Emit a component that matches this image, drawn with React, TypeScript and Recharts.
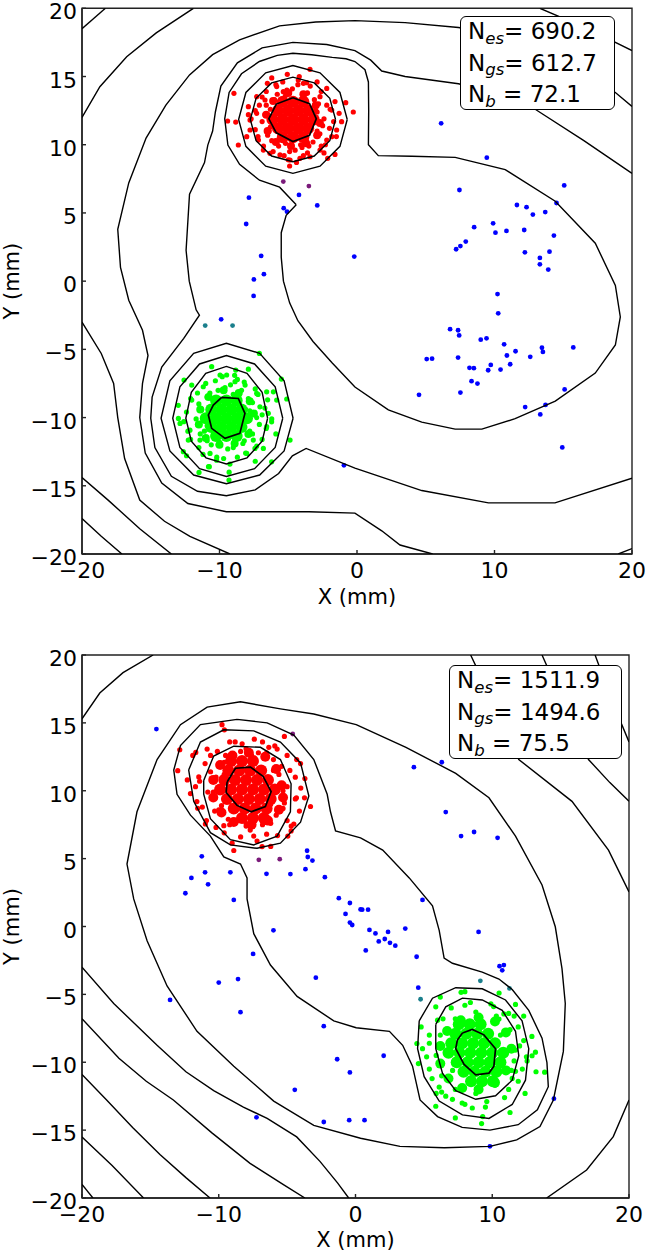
import React from 'react';
import { ScatterChart, Scatter, XAxis, YAxis, ReferenceArea } from 'recharts';

const FONT = '"DejaVu Sans", sans-serif';
const AX = '#222';

const xTicks = [-20, -10, 0, 10, 20];
const yTicks = [-20, -15, -10, -5, 0, 5, 10, 15, 20];

// ---------- top panel: points (x, y pairs) ----------
const p1RedCore = [-6.15, 11.85, -5.4, 11.85, -4.65, 11.85, -3.9, 11.85, -3.15, 11.85, -5.75, 12.5, -5.02, 12.5, -4.28, 12.5, -3.55, 12.5, -5.75, 11.2, -5.02, 11.2, -4.28, 11.2, -3.55, 11.2, -5.4, 13.15, -4.65, 13.15, -3.9, 13.15, -5.4, 10.55, -4.65, 10.55, -3.9, 10.55];
const p1RedRing = [-2.7, 11.6, -3.0, 12.9, -3.9, 13.7, -5.0, 13.8, -6.1, 13.2, -6.6, 12.2, -6.5, 11.0, -5.9, 10.2, -4.8, 9.9, -3.7, 10.1, -2.9, 10.7];
const p1RedMid = [-2.4, 11.9, -2.8, 13.0, -3.6, 13.8, -4.7, 14.1, -5.8, 13.7, -6.6, 12.9, -6.9, 11.7, -6.5, 10.7, -5.7, 9.9, -4.5, 9.6, -3.5, 9.9, -2.7, 10.8, -1.95, 12.6, -2.6, 13.9, -3.9, 14.5, -5.4, 14.6, -6.6, 13.9, -7.4, 12.5, -7.4, 11.1, -6.8, 9.9, -5.3, 9.2, -3.9, 9.2, -2.6, 9.9, -2.0, 11.2, -3.0, 12.5, -6.3, 11.3, -4.1, 10.0, -5.2, 13.6];
const p1RedBand = [-2.9, 12.4, -3.1, 13.3, -3.9, 13.6, -4.3, 14.4, -5.1, 14.0, -6.0, 13.3, -6.3, 12.6, -6.7, 12.2, -6.4, 11.0, -6.2, 10.3, -5.2, 10.1, -4.9, 9.5, -4.0, 9.8, -3.2, 10.2, -2.9, 11.0, -2.5, 11.4, -1.7, 11.7, -2.2, 12.9, -3.4, 14.3, -4.2, 15.0, -5.9, 14.4, -6.9, 13.5, -7.1, 12.9, -7.7, 11.9, -7.2, 10.6, -6.1, 9.5, -5.0, 8.9, -3.6, 9.4, -2.3, 10.0, -1.5, 10.6, -1.3, 12.3, -2.9, 14.6, -6.2, 14.9, -7.9, 12.2, -4.4, 8.7, -2.4, 9.4];
const p1RedOut = [-3.42, 15.53, -5.07, 15.16, -4.27, 14.74, -6.52, 14.5, -5.84, 14.26, -3.66, 14.55, -8.95, 13.77, -7.3, 13.52, -6.69, 13.28, -2.2, 14.13, -1.6, 13.16, -0.82, 13.08, -0.27, 12.4, -1.84, 12.54, -1.12, 11.69, -1.48, 11.08, -9.41, 11.74, -8.82, 11.66, -7.9, 12.79, -7.78, 11.81, -8.02, 10.59, -8.63, 9.98, -7.17, 10.34, -6.81, 9.61, -6.33, 9.37, -5.6, 9.25, -4.87, 8.88, -4.9, 8.44, -4.15, 9.0, -3.42, 9.12, -2.69, 9.61, -2.13, 9.0, -1.6, 9.29, -2.2, 10.34, -1.84, 10.59, -7.78, 11.08, -7.3, 12.3, -3.66, 13.77, -5.36, 13.89, -2.69, 13.52];
const p1GreenCore = [-11.0, -10.05, -10.25, -10.05, -9.5, -10.05, -8.75, -10.05, -8.0, -10.05, -10.6, -9.4, -9.87, -9.4, -9.13, -9.4, -8.4, -9.4, -10.6, -10.7, -9.87, -10.7, -9.13, -10.7, -8.4, -10.7, -10.25, -8.75, -9.5, -8.75, -8.75, -8.75, -10.25, -11.35, -9.5, -11.35, -8.75, -11.35];
const p1GreenRing = [-7.5, -9.7, -7.8, -8.8, -8.6, -8.2, -9.7, -8.0, -10.8, -8.5, -11.4, -9.4, -11.5, -10.5, -11.0, -11.5, -10.0, -12.0, -8.9, -11.9, -7.9, -11.2];
const p1GreenMid = [-7.3, -10.0, -7.6, -8.9, -8.4, -8.0, -9.6, -7.8, -10.7, -8.2, -11.5, -9.0, -11.7, -10.1, -11.4, -11.2, -10.6, -12.0, -9.4, -12.3, -8.3, -11.9, -7.6, -11.2, -6.7, -9.3, -7.4, -7.9, -8.7, -7.2, -10.3, -7.3, -11.6, -8.2, -12.4, -9.6, -12.3, -11.0, -11.5, -12.2, -10.2, -12.9, -8.7, -12.9, -7.3, -12.1, -6.6, -10.8, -8.1, -9.4, -10.9, -10.6, -9.0, -8.3, -10.0, -11.8];
const p1GreenBand = [-7.8, -9.5, -7.9, -8.6, -8.7, -8.2, -9.2, -7.6, -10.1, -8.0, -10.9, -8.5, -11.3, -9.4, -11.6, -10.5, -11.1, -11.0, -10.9, -11.7, -10.1, -12.0, -9.0, -12.2, -8.2, -11.7, -7.8, -11.0, -7.1, -10.5, -6.9, -9.8, -7.2, -8.3, -8.2, -7.4, -9.8, -7.0, -11.0, -7.5, -12.1, -8.6, -12.6, -10.3, -12.1, -11.6, -11.2, -12.7, -9.7, -13.0, -8.1, -12.6, -6.9, -11.6, -6.2, -10.1, -6.5, -8.7, -8.9, -6.9, -10.8, -13.6, -7.4, -13.2, -13.0, -9.1, -5.9, -11.2, -12.4, -12.8, -9.3, -14.0];
const p1GreenOut = [-7.1, -5.3, -12.58, -7.25, -10.57, -6.27, -8.82, -6.52, -7.9, -6.45, -5.5, -7.18, -5.11, -8.64, -6.08, -8.11, -5.84, -8.72, -6.57, -8.11, -12.02, -7.62, -4.87, -11.65, -6.21, -13.24, -6.81, -12.26, -7.42, -12.26, -12.63, -12.5, -11.49, -14.02, -10.74, -13.6, -9.31, -14.58, -9.24, -13.41, -10.21, -13.12, -12.87, -10.43, -12.99, -10.06, -12.02, -8.72, -12.15, -10.92, -12.27, -11.65, -11.42, -11.65, -10.69, -12.63, -8.02, -12.63, -7.54, -11.65, -6.57, -10.67, -6.21, -10.31, -6.45, -9.69, -11.18, -7.74, -9.96, -6.88, -9.48, -6.88, -8.87, -7.37, -8.14, -7.62, -7.3, -8.23, -7.06, -9.21];
const p1Blue = [6.12, 11.57, 9.44, 9.05, 7.45, 6.68, 15.07, 7.02, 14.51, 5.73, 11.63, 5.58, 12.33, 5.42, 12.79, 4.88, 13.69, 5.06, 8.52, 3.96, 9.9, 4.24, 10.07, 3.55, 10.87, 3.68, 12.16, 3.75, 14.32, 3.34, 7.91, 2.9, 7.52, 2.57, 7.21, 2.34, 12.21, 2.11, 14.0, 2.16, 13.3, 1.7, 13.3, 1.23, 13.91, 0.85, 10.22, -0.95, 10.27, -2.36, 6.77, -3.52, 7.35, -3.6, 7.43, -3.98, 9.0, -4.29, 9.42, -4.19, 10.7, -4.63, 13.45, -4.88, 13.52, -5.19, 15.73, -4.86, 11.53, -5.14, 10.9, -5.45, 12.6, -5.55, 5.07, -5.71, 5.46, -5.68, 7.35, -5.6, 8.18, -6.35, 8.5, -6.38, 9.73, -6.14, 9.54, -6.53, 10.44, -6.48, 11.14, -6.09, 8.33, -7.33, 8.76, -7.51, 4.51, -8.33, 7.52, -8.17, 15.1, -7.94, 12.23, -9.23, 13.33, -9.77, 13.71, -9.07, 14.93, -12.19, -0.2, 1.8, -7.86, 6.12, -4.22, 6.32, -2.89, 5.55, -5.33, 5.35, -5.09, 5.09, -8.06, 4.19, -6.97, 1.85, -6.77, 0.51, -7.5, 0.13, -7.52, -1.08, -9.88, -2.8, -0.95, -13.5];
const p1Purple = [-5.36, 7.3, -3.5, 6.97];
const p1Teal = [-11.04, -3.26, -9.05, -3.26];

// ---------- top panel: contour lines ----------
const p1CornerTL = [-20, 18.5, -18.3, 20];
const p1CornerBL = [-20, -17.4, -18.6, -18.7, -17.1, -20];
const p1CornerBR = [19.0, -20, 20, -19.6];
const p1ArcTL = [-20, 12.0, -18.7, 14.25, -16.75, 16.45, -14.6, 18.2, -11.9, 20];
const p1ArcBL = [-20, -14.4, -18.1, -16.05, -15.8, -18.15, -13.5, -20];
const p1ArcTR = [13.3, 20, 16.8, 18.5, 20, 16.9];
const p1EdgeL = [-20, -3.0, -18.6, -5.3, -17.7, -7.5, -17.4, -10, -16.9, -13, -15.8, -16.05, -14, -17.6, -12.15, -18.7, -9.24, -20];
const p1Outer = [20, 12.8, 18.79, 13.83, 16, 15.6, 12, 17.8, 7.38, 18.59, 3.5, 18.95, -0.15, 19.1, -3, 19.0, -5.63, 18.71, -8.54, 17.69, -10.5, 16.6, -12.18, 15.12, -13.9, 12.9, -15.34, 10.49, -16.6, 7.2, -17.4, 3.8, -17.2, 1.0, -16.6, -1.4, -15.6, -3.6, -15.2, -5.45, -15.6, -7.5, -15.8, -10, -15.4, -12.6, -14.2, -14.8, -12.3, -16.3, -9.5, -16.9, -6.5, -16.9, -3.5, -16.9, -0.15, -17.0, 1.8, -18.3, 3.13, -19.34, 5.5, -20];
const p1Mid = [20, 7.9, 16.5, 10.3, 12.96, 12.6, 10.0, 13.8, 7.38, 14.47, 3.5, 15.0, 1.8, 15.4, 1.0, 16.2, -0.15, 16.9, -2.2, 17.35, -4.66, 17.5, -6.9, 17.1, -8.7, 16.0, -9.9, 14.3, -10.3, 12.4, -10.5, 11.0, -10.85, 9.97, -11.09, 8.69, -12.18, 6.38, -12.43, 2.26, -12.2, 0, -11.7, -2.1, -11.46, -2.5, -12.6, -4.2, -14.2, -6.3, -14.9, -8.5, -15.0, -10.05, -14.7, -12.2, -13.5, -14.3, -11.6, -15.4, -9.5, -15.73, -7.4, -15.3, -5.7, -14.1, -4.7, -12.8, -3.7, -12.26, -0.15, -13.7, 4.71, -15.35, 9.56, -16.25, 14.4, -16.25, 20, -14.45];
const p1Inner = [-4.42, 5.6, -5.63, 6.89, -7.09, 7.4, -8.54, 8.56, -9.39, 9.97, -9.62, 11.9, -9.3, 13.83, -8.4, 15.2, -7.1, 16.1, -5.8, 16.55, -4.66, 16.7, -3.3, 16.6, -1.8, 16.4, -0.8, 16.3, -0.15, 16.1, 0.58, 15.5, 0.83, 14.6, 0.85, 12.5, 0.83, 10.0, 1.55, 9.2, 4.0, 9.15, 7.14, 9.07, 10.78, 8.17, 14.42, 5.86, 17.33, 2.78, 18.79, -0.31, 19.15, -2.62, 18.79, -4.68, 17.33, -6.74, 14.42, -8.79, 11.5, -10.08, 9.08, -10.85, 7.14, -10.85, 4.71, -10.33, 2.28, -9.43, -0.15, -7.76, -1.8, -6.0, -3.2, -4.42, -4.3, -2.9, -4.9, -1.59, -5.35, 0, -5.51, 1.75, -5.51, 3.55, -5.15, 4.83, -4.42, 5.6];
const p1RedR2 = [-1.56, 11.85, -1.98, 13.4, -3.11, 14.53, -4.66, 14.95, -6.21, 14.53, -7.34, 13.4, -7.76, 11.85, -7.34, 10.3, -6.21, 9.17, -4.66, 8.75, -3.11, 9.17, -1.98, 10.3, -1.56, 11.85];
const p1RedR3 = [-0.71, 11.85, -1.24, 13.83, -2.69, 15.27, -4.66, 15.8, -6.64, 15.27, -8.08, 13.83, -8.61, 11.85, -8.08, 9.88, -6.64, 8.43, -4.66, 7.9, -2.69, 8.43, -1.24, 9.88, -0.71, 11.85];
const p1RedHept = [-4.66, 13.44, -3.45, 13.01, -2.96, 11.9, -3.45, 10.69, -4.66, 10.23, -5.87, 10.87, -6.41, 11.9, -5.87, 12.98, -4.66, 13.44];
const p1GreenHept = [-9.84, -8.52, -8.63, -8.6, -8.15, -9.69, -8.52, -11.16, -9.6, -11.52, -10.57, -10.79, -10.81, -9.81, -10.45, -9.08, -9.84, -8.52];
const p1GreenR2 = [-6.5, -10.05, -6.9, -8.15, -8.0, -6.76, -9.5, -6.25, -11.0, -6.76, -12.05, -8.15, -12.45, -10.05, -12.05, -11.73, -10.98, -12.95, -9.5, -13.4, -8.0, -12.95, -6.9, -11.73, -6.5, -10.05];
const p1GreenR3 = [-5.4, -10.05, -5.95, -7.75, -7.45, -6.07, -9.5, -5.45, -11.45, -6.07, -12.88, -7.75, -13.4, -10.05, -12.88, -12.19, -11.45, -13.75, -9.5, -14.32, -7.45, -13.75, -5.95, -12.19, -5.4, -10.05];
const p1GreenR4 = [-4.65, -10.05, -5.3, -7.3, -7.08, -5.29, -9.5, -4.55, -11.88, -5.29, -13.61, -7.3, -14.25, -10.05, -13.61, -12.45, -11.88, -14.21, -9.5, -14.85, -7.08, -14.21, -5.3, -12.45, -4.65, -10.05];
const p1Stats = [['es', '', '690.2'], ['gs', '', '612.7'], ['b', ' ', '72.1']];

// ---------- bottom panel: points ----------
const p2RedCore = [-9.9, 10.1, -9.1, 10.1, -8.3, 10.1, -7.5, 10.1, -6.7, 10.1, -5.9, 10.1, -9.6, 10.8, -8.8, 10.8, -8.0, 10.8, -7.2, 10.8, -6.4, 10.8, -9.4, 9.4, -8.6, 9.4, -7.8, 9.4, -7.0, 9.4, -6.2, 9.4, -9.3, 11.5, -8.5, 11.5, -7.7, 11.5, -6.9, 11.5, -8.9, 8.7, -8.1, 8.7, -7.3, 8.7, -6.5, 8.7, -9.1, 12.2, -8.3, 12.2, -7.5, 12.2, -8.3, 8.0, -7.5, 8.0, -6.7, 8.0];
const p2RedRing = [-5.4, 10.4, -5.8, 11.6, -6.6, 12.5, -7.8, 12.8, -9.0, 12.6, -9.9, 11.9, -10.4, 10.8, -10.4, 9.5, -9.8, 8.4, -8.9, 7.7, -7.6, 7.5, -6.4, 7.8, -5.6, 8.6, -5.3, 9.5];
const p2RedMid = [-5.0, 10.3, -5.4, 11.8, -6.5, 12.8, -8.0, 13.1, -9.5, 12.6, -10.6, 11.4, -10.8, 9.9, -10.3, 8.5, -9.2, 7.5, -7.7, 7.1, -6.2, 7.6, -5.3, 8.7, -4.4, 11.0, -5.0, 12.6, -6.8, 13.6, -8.8, 13.6, -10.6, 12.6, -11.4, 10.7, -11.2, 8.8, -10.2, 7.3, -8.4, 6.6, -6.5, 6.8, -5.0, 7.8, -4.4, 9.4, -6.2, 9.0, -9.6, 11.2, -6.0, 11.5, -9.8, 8.9, -7.6, 12.6, -8.0, 7.6];
const p2RedBand = [-5.3, 10.0, -5.6, 11.2, -6.0, 12.3, -7.1, 12.8, -8.4, 12.9, -9.6, 12.1, -10.2, 11.0, -10.4, 9.9, -10.0, 8.6, -9.3, 7.9, -8.0, 7.4, -6.8, 7.5, -5.8, 8.2, -5.2, 9.1, -4.8, 11.5, -5.9, 13.3, -7.4, 13.8, -9.2, 13.6, -10.1, 12.9, -11.0, 12.0, -11.7, 10.3, -11.6, 9.2, -10.9, 7.8, -9.6, 6.9, -7.2, 6.3, -5.7, 6.7, -4.7, 7.4, -4.1, 8.5, -4.0, 10.2, -4.3, 12.3, -12.3, 10.8, -11.9, 12.6, -5.2, 14.0, -3.7, 10.9, -8.9, 5.6, -6.2, 5.9];
const p2RedOut = [-9.76, 14.87, -9.59, 14.49, -12.85, 13.02, -13.0, 11.48, -11.68, 12.82, -10.85, 13.07, -8.29, 13.46, -6.34, 13.2, -5.73, 13.07, -4.02, 12.0, -3.29, 8.84, -3.73, 9.48, -4.32, 9.48, -4.51, 7.55, -4.71, 7.04, -4.95, 6.66, -6.83, 5.89, -7.44, 6.66, -9.02, 6.14, -9.63, 7.43, -10.98, 7.55, -11.54, 8.71, -12.07, 9.79, -11.46, 11.02];
const p2GreenCore = [6.8, -9.3, 7.6, -9.3, 8.4, -9.3, 9.2, -9.3, 10.0, -9.3, 10.8, -9.3, 7.0, -8.6, 7.8, -8.6, 8.6, -8.6, 9.4, -8.6, 10.2, -8.6, 7.4, -10.0, 8.2, -10.0, 9.0, -10.0, 9.8, -10.0, 10.6, -10.0, 7.3, -7.9, 8.1, -7.9, 8.9, -7.9, 9.7, -7.9, 7.9, -10.7, 8.7, -10.7, 9.5, -10.7, 10.3, -10.7, 7.55, -7.2, 8.35, -7.2, 9.15, -7.2, 8.45, -11.4, 9.25, -11.4, 10.05, -11.4];
const p2GreenRing = [11.4, -9.0, 11.0, -7.8, 10.2, -7.0, 9.0, -6.7, 7.7, -6.9, 6.7, -7.7, 6.2, -8.8, 6.2, -10.1, 6.8, -11.2, 7.8, -11.9, 9.0, -12.0, 10.2, -11.5, 11.0, -10.6];
const p2GreenMid = [11.7, -9.1, 11.3, -7.6, 10.3, -6.6, 8.8, -6.3, 7.3, -6.8, 6.2, -8.0, 5.9, -9.5, 6.3, -11.0, 7.3, -12.0, 8.8, -12.3, 10.2, -11.7, 11.4, -10.6, 12.3, -8.4, 11.6, -6.6, 9.9, -5.7, 8.0, -5.8, 6.4, -6.8, 5.4, -8.6, 5.4, -10.5, 6.3, -12.2, 7.8, -13.0, 9.6, -12.9, 11.2, -12.0, 12.2, -10.5, 10.6, -8.0, 7.1, -10.6, 9.9, -11.2, 7.5, -7.7, 11.0, -9.4, 6.8, -9.4];
const p2GreenBand = [11.6, -9.9, 12.0, -8.8, 11.9, -7.4, 11.2, -6.4, 10.1, -5.9, 8.4, -5.6, 7.0, -6.0, 6.0, -6.9, 5.4, -8.0, 5.2, -9.6, 5.6, -11.2, 6.6, -12.5, 8.0, -13.1, 9.5, -13.3, 10.9, -12.6, 11.9, -11.4, 12.5, -9.6, 12.9, -8.1, 12.3, -6.6, 5.9, -12.3, 4.6, -10.1, 9.3, -14.0, 13.2, -10.7, 8.0, -4.8, 10.5, -4.9, 6.2, -5.2, 7.3, -14.1, 12.4, -12.3, 4.8, -7.4, 11.3, -13.7];
const p2GreenOut = [11.7, -5.74, 10.85, -6.44, 10.49, -6.82, 4.49, -8.62, 4.9, -9.0, 5.87, -13.24, 8.54, -13.37, 9.22, -14.52, 7.09, -12.73, 12.55, -9.9, 13.83, -10.73, 12.91, -9.52, 13.16, -9.26, 11.7, -10.67, 11.46, -11.19, 6.12, -11.83, 7.72, -4.85, 5.87, -5.92];
const p2Blue = [-14.56, 14.54, -11.24, 5.17, -12.0, 3.58, -11.0, 3.99, -10.78, 3.11, -12.44, 2.45, -9.15, 3.99, -8.9, 1.96, -6.51, 3.88, -4.76, 3.86, -3.66, 4.22, -3.54, 5.58, -3.49, 5.12, -3.15, 4.86, -2.24, 3.63, -1.22, 2.09, -0.41, 1.73, -0.73, 0.93, -0.41, 0.29, -0.24, 0.11, 0.37, 1.26, -6.0, -0.28, -7.49, -2.02, -10.0, -4.13, -8.59, -3.87, -2.9, -3.77, -13.56, -5.41, -8.41, -6.31, -2.32, -7.34, -1.34, -9.78, -0.41, -10.75, -4.44, -12.03, -7.24, -14.06, -2.32, -14.4, -0.46, -14.27, 4.27, 11.74, 6.31, 12.1, 6.6, 8.43, 7.72, 6.66, 8.67, 6.96, 10.39, 6.53, 4.9, 1.96, 0.49, 1.24, 0.92, 1.24, 1.02, -0.25, 1.46, -0.51, 2.38, -0.4, 1.7, -1.1, 2.14, -0.92, 2.52, -1.2, 2.91, -1.41, 3.64, -0.15, 0.75, -1.76, 4.47, -2.23, 9.0, -0.4, 10.53, -2.92, 10.85, -2.84, 10.73, -3.23, 4.59, -4.51, 2.06, -9.52, 14.51, -12.68, 0.66, -14.27, 9.83, -16.19];
const p2Purple = [-4.59, 14.18, -7.07, 4.91, -5.54, 4.96];
const p2Teal = [9.13, -4.0, 11.26, -4.56, 4.76, -5.36];

// ---------- bottom panel: contour lines ----------
const p2CornerTL = [-20, 15.3, -18.7, 17.2, -17, 18.7, -14.8, 20];
const p2CornerBL = [-20, -19.0, -19.2, -20];
const p2ArcBL1 = [-20, -15.5, -17.8, -17.6, -15.5, -20];
const p2ArcBL2 = [-20, -10.9, -18.2, -12.78, -16.3, -14.8, -14.3, -16.8, -12.4, -18.5, -10.64, -20];
const p2ArcBL3 = [-20, -6.8, -17.3, -9.7, -15.3, -11.4, -13.32, -12.78, -10.5, -15.2, -7.71, -17.45, -5.3, -19.0, -3.7, -20];
const p2EdgeL = [-20, -3.0, -17.68, -5.67, -14.51, -8.75, -12.4, -10.7, -10.37, -12.09, -8.2, -13.3, -6.46, -14.14, -4.3, -15.5, -2.6, -17.3, -1.3, -18.9, -0.5, -20];
const p2ArcBR = [13.98, -20, 16.9, -17.94, 18.85, -15.48, 20, -12.78];
const p2ArcTR1 = [8.42, 20, 10.2, 16.2, 11.94, 12.3, 15.83, 9.22, 18.5, 5.63, 20, 2.55];
const p2ArcTR2 = [13.64, 20, 15.4, 16.0, 17.04, 12.3, 18.6, 10.6, 20, 9.22];
const p2ArcTR3 = [17.52, 20, 18.8, 16.5, 20, 13.6];
const p2Outer = [0.05, 14.87, 3.69, 13.2, 7.33, 11.28, 9.76, 9.48, 11.7, 6.66, 13.64, 3.06, 14.61, -0.02, 15.1, -3.1, 15.34, -5.67, 15.2, -9.2, 14.47, -12.78, 13.49, -14.74, 11.79, -15.72, 9.83, -16.2, 6.5, -16.3, 3.25, -16.2, 0.37, -15.6, -3.05, -14.65, -5.98, -12.86, -8.9, -10.29, -11.59, -7.72, -13.78, -4.38, -15.24, -1.05, -16.22, 2.03, -16.71, 4.6, -15.98, 8.45, -14.51, 12.3, -12.8, 14.87, -10.85, 16.16, -8.41, 16.55, -5.49, 16.03, -3.05, 15.65, 0.05, 14.87];
const p2Waist = [-8.66, 15.26, -6.46, 15.0, -4.51, 14.1, -3.05, 12.3, -2.07, 9.74, -1.83, 8.45, -1.46, 7.04, 0.37, 6.53, 1.99, 5.63, 3.93, 3.58, 5.63, 1.52, 6.12, -0.28, 6.48, -2.33, 7.09, -2.71, 9.27, -3.36, 10.49, -3.87, 11.46, -4.64, 12.67, -6.18, 13.64, -8.23, 14.0, -10.03, 14.1, -11.8, 13.3, -13.5, 11.9, -14.6, 9.83, -15.0, 7.8, -14.8, 6.0, -14.0, 4.72, -12.78, 4.17, -10.29, 3.45, -8.75, 2.48, -7.72, 0.05, -7.46, -1.59, -6.95, -4.27, -5.15, -6.22, -2.84, -7.44, -0.53, -7.93, 2.03, -7.93, 3.58, -8.41, 4.6, -9.63, 5.12, -10.61, 6.66, -12.07, 8.2, -13.05, 9.74, -13.29, 11.53, -12.8, 13.33, -11.34, 14.87, -8.66, 15.26];
const p2RedHept = [-9.39, 10.64, -8.78, 11.66, -7.68, 11.74, -6.76, 11.07, -6.17, 9.94, -6.59, 8.84, -7.63, 8.45, -8.66, 8.92, -9.46, 9.87, -9.39, 10.64];
const p2RedR2 = [-11.1, 10.76, -10.37, 12.56, -8.9, 13.28, -6.95, 13.2, -5.49, 12.3, -4.71, 10.51, -4.76, 8.45, -5.73, 6.66, -7.44, 6.01, -9.15, 6.4, -10.61, 7.94, -11.1, 9.74, -11.1, 10.76];
const p2RedR3 = [-12.2, 11.53, -11.34, 13.59, -9.63, 14.49, -7.44, 14.41, -5.49, 13.59, -4.02, 12.05, -3.41, 9.61, -4.02, 7.68, -5.49, 6.14, -7.2, 5.76, -9.15, 6.01, -10.61, 6.91, -11.83, 9.22, -12.2, 11.53];
const p2GreenHept = [7.82, -7.85, 8.54, -7.59, 9.39, -7.98, 10.24, -9.0, 10.12, -10.29, 9.76, -10.8, 8.79, -10.93, 7.94, -10.16, 7.33, -9.0, 7.45, -8.36, 7.82, -7.85];
const p2GreenR2 = [5.87, -7.21, 6.6, -5.92, 7.82, -5.28, 9.27, -5.41, 10.73, -6.18, 11.7, -7.72, 11.94, -9.52, 11.46, -11.32, 10.24, -12.47, 8.79, -12.73, 7.33, -12.09, 6.36, -10.8, 5.87, -9.0, 5.87, -7.21];
const p2GreenR3 = [4.66, -6.95, 5.63, -5.28, 7.33, -4.51, 9.27, -4.59, 10.97, -5.41, 12.18, -6.95, 12.67, -9.0, 12.43, -11.32, 11.46, -13.11, 9.76, -14.14, 7.82, -13.88, 6.12, -12.86, 5.02, -11.06, 4.54, -9.0, 4.66, -6.95];
const p2Stats = [['es', '', '1511.9'], ['gs', '', '1494.6'], ['b', ' ', '75.5']];

type Pt = { x: number; y: number };
const pts = (flat: number[]): Pt[] => {
  const out: Pt[] = [];
  for (let i = 0; i + 1 < flat.length; i += 2) out.push({ x: flat[i], y: flat[i + 1] });
  return out;
};

const fmt = (v: number) => (v < 0 ? `\u2212${-v}` : `${v}`);
const dot = (r: number, fill: string) => (p: any) => <circle cx={p.cx} cy={p.cy} r={r} fill={fill} />;
const blank = () => <g />;

// matplotlib puts y tick labels a few px below the tick itself
const YTick = (p: any) => (
  <text x={p.x} y={p.y + 11} textAnchor="end" fontSize={22} fontFamily={FONT} fill="#000">
    {fmt(p.payload.value)}
  </text>
);

interface Layer { data: number[]; r: number; color: string }
interface PlotProps {
  width: number;
  height: number;
  margin: { top: number; right: number; bottom: number; left: number };
  labelOffset: number;
  layers: Layer[];
  lines: number[][];
  heavy: number[][];
}

function Plot({ width, height, margin, labelOffset, layers, lines, heavy }: PlotProps) {
  const tickStyle = { fontSize: 22, fill: '#000', fontFamily: FONT };
  return (
    <ScatterChart width={width} height={height} margin={margin}>
      <XAxis type="number" dataKey="x" domain={[-20, 20]} ticks={xTicks} interval={0} allowDataOverflow
        tickFormatter={fmt} tickSize={-4} tickMargin={12} height={50} tick={tickStyle}
        axisLine={{ stroke: AX, strokeWidth: 1.4 }} tickLine={{ stroke: AX, strokeWidth: 1.4 }}
        label={{ value: 'X (mm)', position: 'insideBottom', offset: labelOffset, fontSize: 21, fill: '#000', fontFamily: FONT }} />
      <YAxis type="number" dataKey="y" domain={[-20, 20]} ticks={yTicks} interval={0} allowDataOverflow
        tickSize={-4} tickMargin={9} width={60} tick={YTick}
        axisLine={{ stroke: AX, strokeWidth: 1.4 }} tickLine={{ stroke: AX, strokeWidth: 1.4 }}
        label={{ value: 'Y (mm)', angle: -90, position: 'insideLeft', offset: -10, fontSize: 21, fill: '#000', fontFamily: FONT, style: { textAnchor: 'middle' } }} />
      <ReferenceArea x1={-20} x2={20} y1={-20} y2={20} fill="none" stroke={AX} strokeWidth={1.4} />
      {layers.map((l, i) => (
        <Scatter key={'p' + i} data={pts(l.data)} shape={dot(l.r, l.color)} isAnimationActive={false} />
      ))}
      {lines.map((c, i) => (
        <Scatter key={'c' + i} data={pts(c)} shape={blank} line={{ stroke: '#000', strokeWidth: 1.4 }} isAnimationActive={false} />
      ))}
      {heavy.map((c, i) => (
        <Scatter key={'h' + i} data={pts(c)} shape={blank} line={{ stroke: '#000', strokeWidth: 1.7 }} isAnimationActive={false} />
      ))}
    </ScatterChart>
  );
}

function StatBox({ left, top, width, rows }: { left: number; top: number; width: number; rows: string[][] }) {
  return (
    <div style={{
      position: 'absolute', left, top, width, height: 94, boxSizing: 'border-box',
      border: '1.3px solid #000', borderRadius: 6, background: '#fff', color: '#000',
      fontFamily: FONT, fontSize: 23, lineHeight: '28.5px', padding: '0 0 0 7px', whiteSpace: 'pre',
    }}>
      {rows.map(([sub, gap, val]) => (
        <div key={sub}>
          N<span style={{ fontStyle: 'italic', fontSize: '0.72em', position: 'relative', top: '0.28em' }}>{sub}</span>{gap}= {val}
        </div>
      ))}
    </div>
  );
}

const RED = '#ff0000';
const GREEN = '#00ff00';
const BLUE = '#0000ff';
const PURPLE = '#7a1a7a';
const TEAL = '#1a7f8c';

export default function App() {
  return (
    <div style={{ position: 'absolute', left: 0, top: 0, width: 646, height: 1251, background: '#fff', overflow: 'hidden' }}>
      <div style={{ position: 'absolute', left: 0, top: 0 }}>
        <Plot width={646} height={620} margin={{ top: 8.3, right: 14, bottom: 16, left: 22 }} labelOffset={0}
          layers={[
            { data: p1RedCore, r: 6, color: RED }, { data: p1RedRing, r: 4, color: RED }, { data: p1RedMid, r: 2.6, color: RED },
            { data: p1RedBand, r: 2.6, color: RED }, { data: p1RedOut, r: 2.6, color: RED },
            { data: p1GreenCore, r: 6, color: GREEN }, { data: p1GreenRing, r: 4, color: GREEN }, { data: p1GreenMid, r: 2.6, color: GREEN },
            { data: p1GreenBand, r: 2.6, color: GREEN }, { data: p1GreenOut, r: 2.6, color: GREEN },
            { data: p1Blue, r: 2.4, color: BLUE }, { data: p1Purple, r: 2.4, color: PURPLE }, { data: p1Teal, r: 2.4, color: TEAL },
          ]}
          lines={[p1CornerTL, p1CornerBL, p1CornerBR, p1ArcTL, p1ArcBL, p1ArcTR, p1EdgeL, p1Outer, p1Mid, p1Inner, p1RedR2, p1RedR3, p1GreenR2, p1GreenR3, p1GreenR4]}
          heavy={[p1RedHept, p1GreenHept]} />
      </div>
      <div style={{ position: 'absolute', left: 0, top: 640 }}>
        <Plot width={646} height={611} margin={{ top: 15, right: 17, bottom: 3, left: 22 }} labelOffset={1}
          layers={[
            { data: p2RedCore, r: 6, color: RED }, { data: p2RedRing, r: 5, color: RED }, { data: p2RedMid, r: 2.6, color: RED },
            { data: p2RedBand, r: 2.6, color: RED }, { data: p2RedOut, r: 2.6, color: RED },
            { data: p2GreenCore, r: 6, color: GREEN }, { data: p2GreenRing, r: 5, color: GREEN }, { data: p2GreenMid, r: 2.6, color: GREEN },
            { data: p2GreenBand, r: 2.6, color: GREEN }, { data: p2GreenOut, r: 2.6, color: GREEN },
            { data: p2Blue, r: 2.4, color: BLUE }, { data: p2Purple, r: 2.4, color: PURPLE }, { data: p2Teal, r: 2.4, color: TEAL },
          ]}
          lines={[p2CornerTL, p2CornerBL, p2ArcBL1, p2ArcBL2, p2ArcBL3, p2EdgeL, p2ArcBR, p2ArcTR1, p2ArcTR2, p2ArcTR3, p2Outer, p2Waist, p2RedR2, p2RedR3, p2GreenR2, p2GreenR3]}
          heavy={[p2RedHept, p2GreenHept]} />
      </div>
      <StatBox left={460} top={16} width={155} rows={p1Stats} />
      <StatBox left={449} top={665} width={173} rows={p2Stats} />
    </div>
  );
}
